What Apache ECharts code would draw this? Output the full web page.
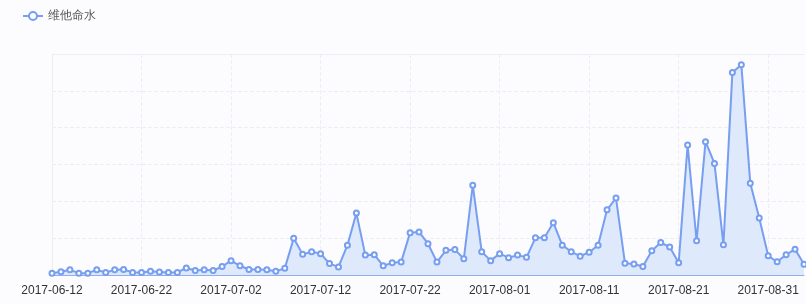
<!DOCTYPE html>
<html>
<head>
<meta charset="utf-8">
<script src="https://cdn.jsdelivr.net/npm/echarts@6/dist/echarts.min.js"></script>
<style>
  html, body { margin: 0; padding: 0; background: #fcfcfe; }
  #myChart { width: 806px; height: 304px; }
</style>
</head>
<body>
<div id="myChart"></div>
<script>
  // 日期 2017-06-12 起，共 85 天
  let startDate = new Date(2017, 5, 12);
  let dayCount = 85;
  let categories = [];
  for (let i = 0; i < dayCount; i++) {
    let d = new Date(startDate.getTime() + i * 86400000);
    let m = ('0' + (d.getMonth() + 1)).slice(-2);
    let dd = ('0' + d.getDate()).slice(-2);
    categories.push(d.getFullYear() + '-' + m + '-' + dd);
  }

  let seriesName = '维他命水';
  let seriesValues = [
    5, 9, 14, 5, 5, 14, 7, 14, 15, 7,
    7, 10, 8, 7, 7, 19, 12, 14, 12, 23,
    39, 25, 15, 15, 14, 10, 18, 100, 56, 63,
    58, 31, 22, 81, 168, 54, 55, 25, 33, 35,
    115, 117, 85, 35, 67, 69, 44, 244, 63, 39,
    58, 47, 54, 48, 101, 101, 142, 81, 63, 51,
    62, 81, 177, 209, 32, 30, 23, 66, 88, 76,
    33, 353, 93, 362, 303, 82, 550, 571, 249, 155,
    52, 36, 55, 70, 29
  ];

  let myChart = echarts.init(document.getElementById('myChart'));
  myChart.setOption({
    backgroundColor: '#fcfcfe',
    animation: false,
    color: ['#779ef0'],
    legend: {
      left: 17,
      top: 5,
      itemWidth: 20,
      itemHeight: 10,
      textStyle: { color: '#555', fontSize: 12 },
      data: [seriesName]
    },
    grid: {
      left: 52,
      right: 2,
      top: 54,
      bottom: 29
    },
    xAxis: [{
      type: 'category',
      boundaryGap: false,
      data: categories,
      axisLine: { lineStyle: { color: '#8fb0f0', width: 1 } },
      axisTick: { show: false },
      axisLabel: { interval: 9, color: '#333', fontSize: 12, margin: 10 },
      splitLine: {
        show: true,
        interval: 9,
        lineStyle: { type: 'dashed', color: '#eceef3' }
      }
    }, {
      // 顶部实线边框
      type: 'category',
      position: 'top',
      boundaryGap: false,
      data: categories,
      axisLine: { lineStyle: { color: '#eceef2' } },
      axisTick: { show: false },
      axisLabel: { show: false },
      splitLine: { show: false }
    }],
    yAxis: {
      type: 'value',
      min: 0,
      max: 600,
      interval: 100,
      axisLine: { show: true, lineStyle: { color: '#eceef2' } },
      axisTick: { show: false },
      axisLabel: { show: false },
      splitLine: { lineStyle: { type: 'dashed', color: '#eceef3' } }
    },
    series: [{
      name: seriesName,
      type: 'line',
      data: seriesValues,
      symbol: 'emptyCircle',
      symbolSize: 5,
      showAllSymbol: true,
      lineStyle: { color: '#779ef0', width: 2 },
      itemStyle: { color: '#779ef0', borderWidth: 1.5 },
      areaStyle: { color: '#dfe9fc', opacity: 1 }
    }]
  });
</script>
</body>
</html>
